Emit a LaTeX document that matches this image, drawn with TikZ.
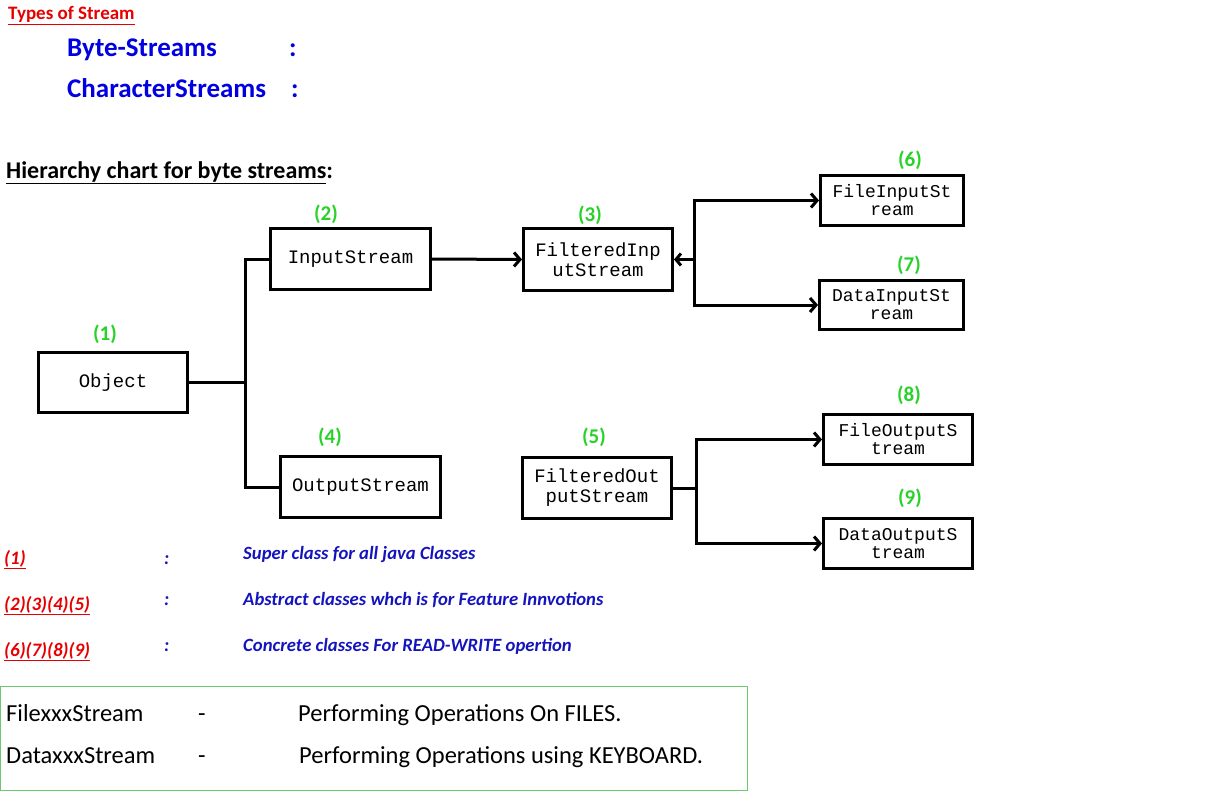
\documentclass[tikz,border=0pt]{standalone}
\usepackage{fontspec}
\setmainfont{Carlito}
\newfontfamily\boxfont{Liberation Mono}
\usetikzlibrary{arrows.meta,positioning}
\definecolor{headred}{RGB}{230,0,0}
\definecolor{typeblue}{RGB}{0,0,225}
\definecolor{numgreen}{RGB}{40,210,40}
\definecolor{noteblue}{RGB}{20,20,190}
\definecolor{framegreen}{RGB}{110,200,110}

\begin{document}
\begin{tikzpicture}[x=1pt, y=-1pt,
    cls/.style={draw, line width=3pt, align=center, inner sep=0pt,
      font=\boxfont\fontsize{19}{20}\selectfont},
    smallcls/.style={cls, font=\boxfont\fontsize{18}{18}\selectfont},
    num/.style={text=numgreen, font=\bfseries\fontsize{21}{22}\selectfont},
    txt/.style={anchor=base west, inner sep=0pt},
    typetxt/.style={txt, text=typeblue, font=\bfseries\fontsize{27}{30}\selectfont},
    keytxt/.style={txt, text=headred, font=\bfseries\itshape\fontsize{19}{21}\selectfont},
    notetxt/.style={txt, text=noteblue, font=\bfseries\itshape\fontsize{18.7}{21}\selectfont},
    infotxt/.style={txt, font=\fontsize{24.5}{27}\selectfont},
    link/.style={line width=3pt},
    arr/.style={link, -{Straight Barb[length=6pt,width=14pt]}},
    back/.style={link, {Straight Barb[length=5pt,width=12pt]}-}]
  \useasboundingbox (0,0) rectangle (1207,800);

  \node[txt, text=headred, font=\bfseries\fontsize{19}{22}\selectfont] (types) at (8,20) {\underline{Types of Stream}};
  \node[typetxt] (byte) at (67,57) {Byte-Streams};
  \node[typetxt] (bytecol) at (289,57) {:};
  \node[typetxt] (char) at (67,97) {CharacterStreams};
  \node[typetxt] (charcol) at (291,97) {:};
  \node[txt, font=\bfseries\fontsize{24}{27}\selectfont] (chart) at (6,178) {\underline{Hierarchy chart for byte streams}:};

  \node[cls, minimum width=149pt, minimum height=60pt] (obj) at (113,382.5) {Object};
  \node[cls, minimum width=160pt, minimum height=61pt] (ins) at (350.5,259) {InputStream};
  \node[cls, minimum width=149pt, minimum height=62pt] (fis) at (598,259.5) {FilteredInp\\utStream};
  \node[cls, minimum width=160pt, minimum height=61pt] (outs) at (360.5,487) {OutputStream};
  \node[cls, minimum width=149pt, minimum height=61pt] (fos) at (597,488) {FilteredOut\\putStream};
  \node[smallcls, minimum width=143pt, minimum height=50pt] (fileis) at (892,200.5) {FileInputSt\\ream};
  \node[smallcls, minimum width=144pt, minimum height=49pt] (datais) at (891.5,305) {DataInputSt\\ream};
  \node[smallcls, minimum width=149pt, minimum height=50pt] (fileos) at (898,439.5) {FileOutputS\\tream};
  \node[smallcls, minimum width=149pt, minimum height=50pt] (dataos) at (898,543.5) {DataOutputS\\tream};

  \node[num] (n1) at (105,334) {(1)};
  \node[num] (n2) at (326,214) {(2)};
  \node[num] (n3) at (590,215) {(3)};
  \node[num] (n4) at (330,437) {(4)};
  \node[num] (n5) at (594,437) {(5)};
  \node[num] (n6) at (910,160) {(6)};
  \node[num] (n7) at (909,265) {(7)};
  \node[num] (n8) at (909,395) {(8)};
  \node[num] (n9) at (910,498) {(9)};

  \coordinate (objfork) at ([xshift=56pt]obj.east);
  \coordinate (fisfork) at ([xshift=20pt]fis.east);
  \coordinate (fosfork) at ([xshift=23pt]fos.east);

  \draw[link] (obj.east) -- (objfork);
  \draw[link] (ins.west) -| (objfork) |- (outs.west);
  \draw[arr] (ins.east) -- (fis.west);
  \draw[back] (fis.east) -- (fisfork);
  \draw[arr] (fisfork) |- (fileis.west);
  \draw[arr] (fisfork) |- (datais.west);
  \draw[link] (fos.east) -- (fosfork);
  \draw[arr] (fosfork) |- (fileos.west);
  \draw[arr] (fosfork) |- (dataos.west);

  \node[keytxt] (k1) at (4,564) {\underline{(1)}};
  \node[notetxt] (c1) at (164,564) {:};
  \node[notetxt] (d1) at (243,559) {Super class for all java Classes};
  \node[keytxt] (k2) at (4,610) {\underline{(2)(3)(4)(5)}};
  \node[notetxt] (c2) at (164,605) {:};
  \node[notetxt] (d2) at (243,605) {Abstract classes whch is for Feature Innvotions};
  \node[keytxt] (k3) at (4,656) {\underline{(6)(7)(8)(9)}};
  \node[notetxt] (c3) at (164,651) {:};
  \node[notetxt] (d3) at (243,651) {Concrete classes For READ-WRITE opertion};

  \draw[framegreen, line width=1pt] (0.5,686.5) rectangle (747,790);
  \node[infotxt] (file) at (6,721) {FilexxxStream};
  \node[infotxt] (filedash) at (198,721) {-};
  \node[infotxt] (filedesc) at (298,721) {Performing Operations On FILES.};
  \node[infotxt] (data) at (6,763) {DataxxxStream};
  \node[infotxt] (datadash) at (198,763) {-};
  \node[infotxt] (datadesc) at (299,763) {Performing Operations using KEYBOARD.};
\end{tikzpicture}
\end{document}
